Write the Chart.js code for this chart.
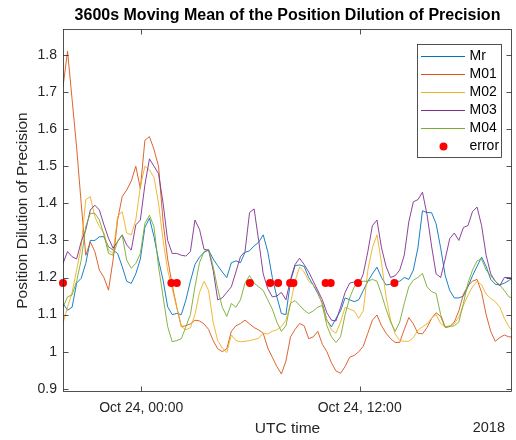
<!DOCTYPE html>
<html>
<head>
<meta charset="utf-8">
<script src="https://cdn.jsdelivr.net/npm/chart.js@4.4.0/dist/chart.umd.min.js"></script>
<style>
  html, body { margin: 0; padding: 0; background: #fff; }
</style>
</head>
<body>
<canvas id="pdopChart" width="516" height="440"></canvas>
<script>
// hours relative to Oct 24, 00:00 UTC
let times = [-4.3,-4.05,-3.8,-3.55,-3.3,-3.05,-2.8,-2.55,-2.3,-2.05,-1.8,-1.55,-1.3,-1.05,-0.8,-0.55,-0.3,-0.05,0.2,0.45,
  0.7,0.95,1.2,1.45,1.7,1.95,2.2,2.45,2.7,2.95,3.2,3.45,3.7,3.95,4.2,4.45,4.7,4.95,5.2,5.45,
  5.7,5.95,6.2,6.45,6.7,6.95,7.2,7.45,7.7,7.95,8.2,8.45,8.7,8.95,9.2,9.45,9.7,9.95,10.2,10.45,
  10.7,10.95,11.2,11.45,11.7,11.95,12.2,12.45,12.7,12.95,13.2,13.45,13.7,13.95,14.2,14.45,14.7,14.95,15.2,15.45,
  15.7,15.95,16.2,16.45,16.7,16.95,17.2,17.45,17.7,17.95,18.2,18.45,18.7,18.95,19.2,19.45,19.7,19.95,20.2,20.37];

let mr = [1.13,1.112,1.12,1.185,1.198,1.238,1.30,1.30,1.31,1.31,
  1.283,1.274,1.265,1.23,1.19,1.184,1.21,1.25,1.335,1.36,
  1.31,1.247,1.193,1.121,1.10,1.103,1.10,1.139,1.19,1.235,
  1.255,1.268,1.274,1.25,1.232,1.215,1.20,1.24,1.245,1.24,
  1.268,1.272,1.285,1.295,1.315,1.27,1.20,1.148,1.103,1.10,
  1.19,1.232,1.234,1.23,1.20,1.18,1.157,1.13,1.085,1.067,
  1.09,1.11,1.145,1.14,1.135,1.14,1.165,1.19,1.21,1.228,
  1.20,1.18,1.182,1.19,1.19,1.2,1.195,1.22,1.28,1.38,
  1.375,1.375,1.345,1.28,1.205,1.165,1.145,1.145,1.15,1.175,
  1.205,1.23,1.255,1.23,1.195,1.182,1.18,1.185,1.192,1.198];

let m01 = [1.714,1.81,1.68,1.55,1.40,1.26,1.296,1.27,1.22,1.20,
  1.166,1.247,1.355,1.418,1.436,1.46,1.50,1.44,1.57,1.58,
  1.545,1.50,1.35,1.25,1.18,1.12,1.068,1.07,1.075,1.085,
  1.083,1.075,1.06,1.03,1.008,1.0,1.008,1.055,1.07,1.076,
  1.085,1.075,1.065,1.059,1.05,1.01,0.985,0.96,0.94,0.975,
  1.04,1.06,1.076,1.07,1.035,1.04,1.055,1.02,1.0,0.97,
  0.948,0.942,0.96,0.985,0.99,1.0,1.015,1.05,1.085,1.099,
  1.07,1.05,1.035,1.025,1.025,1.06,1.092,1.075,1.05,1.048,
  1.065,1.09,1.105,1.095,1.065,1.068,1.08,1.11,1.155,1.178,
  1.19,1.195,1.16,1.10,1.055,1.028,1.038,1.045,1.04,1.04];

let m02 = [1.077,1.12,1.16,1.22,1.283,1.41,1.418,1.364,1.337,1.32,
  1.274,1.265,1.364,1.378,1.32,1.315,1.355,1.445,1.50,1.49,
  1.47,1.40,1.30,1.22,1.17,1.12,1.068,1.059,1.065,1.10,
  1.16,1.19,1.165,1.08,1.03,1.01,0.998,1.045,1.03,1.027,
  1.028,1.03,1.033,1.036,1.05,1.048,1.055,1.059,1.068,1.085,
  1.13,1.19,1.229,1.215,1.19,1.18,1.165,1.125,1.085,1.058,
  1.05,1.08,1.12,1.115,1.11,1.09,1.11,1.22,1.28,1.315,
  1.24,1.148,1.085,1.048,1.03,1.028,1.028,1.038,1.058,1.067,
  1.075,1.09,1.10,1.076,1.067,1.07,1.075,1.094,1.125,1.152,
  1.175,1.19,1.18,1.155,1.144,1.135,1.12,1.09,1.067,1.058];

let m03 = [1.238,1.27,1.256,1.25,1.297,1.328,1.382,1.395,1.382,1.342,
  1.306,1.279,1.297,1.315,1.288,1.274,1.342,1.355,1.45,1.52,
  1.50,1.48,1.40,1.30,1.265,1.265,1.26,1.258,1.27,1.355,
  1.33,1.276,1.274,1.22,1.14,1.145,1.16,1.175,1.215,1.256,
  1.27,1.375,1.385,1.30,1.21,1.17,1.148,1.15,1.16,1.14,
  1.195,1.235,1.252,1.235,1.215,1.19,1.165,1.14,1.105,1.085,
  1.083,1.12,1.16,1.185,1.188,1.18,1.21,1.27,1.34,1.355,
  1.28,1.23,1.20,1.205,1.22,1.26,1.35,1.404,1.41,1.43,
  1.37,1.285,1.21,1.20,1.25,1.305,1.32,1.30,1.335,1.34,
  1.378,1.39,1.34,1.26,1.21,1.19,1.178,1.20,1.20,1.198];

let m04 = [1.12,1.148,1.153,1.19,1.247,1.337,1.373,1.373,1.355,1.315,
  1.265,1.26,1.297,1.315,1.247,1.225,1.238,1.265,1.346,1.368,
  1.337,1.229,1.148,1.068,1.027,1.03,1.035,1.067,1.10,1.175,
  1.24,1.27,1.276,1.23,1.17,1.12,1.095,1.13,1.12,1.14,
  1.185,1.205,1.185,1.175,1.165,1.14,1.115,1.08,1.055,1.07,
  1.13,1.138,1.125,1.112,1.103,1.11,1.12,1.125,1.07,1.04,
  1.025,1.04,1.10,1.145,1.175,1.188,1.19,1.19,1.195,1.19,
  1.155,1.115,1.08,1.055,1.08,1.13,1.175,1.193,1.20,1.211,
  1.175,1.162,1.157,1.10,1.067,1.068,1.07,1.08,1.13,1.185,
  1.22,1.245,1.25,1.22,1.205,1.19,1.18,1.165,1.148,1.145];

// moments flagged as error
let errorTimes = [-4.3,1.655,1.955,5.97,7.08,7.52,8.18,8.36,10.13,10.41,11.91,13.91];
let errorValues = [1.185,1.185,1.185,1.185,1.185,1.185,1.185,1.185,1.185,1.185,1.185,1.185];

let seriesNames = ['Mr', 'M01', 'M02', 'M03', 'M04'];
let seriesColors = ['#0072BD', '#D95319', '#EDB120', '#7E2F8E', '#77AC30'];

let xTickValues = [0, 12];
let xTickLabels = ['Oct 24, 00:00', 'Oct 24, 12:00'];
let yTickValues = [0.9, 1.0, 1.1, 1.2, 1.3, 1.4, 1.5, 1.6, 1.7, 1.8];
let yTickLabels = ['0.9', '1', '1.1', '1.2', '1.3', '1.4', '1.5', '1.6', '1.7', '1.8'];

const fontFamily = '"Liberation Sans", Arial, Helvetica, sans-serif';
const axisColor = '#262626';

function toPoints(xs, ys) {
    return xs.map((t, i) => ({ x: t, y: ys[i] }));
}

let allSeries = [mr, m01, m02, m03, m04];
let datasets = allSeries.map((vals, i) => ({
    label: seriesNames[i],
    data: toPoints(times, vals),
    borderColor: seriesColors[i],
    borderWidth: 0.9,
    pointRadius: 0,
    fill: false,
    tension: 0,
    order: 5 - i   // later series drawn on top, like the original
}));
datasets.push({
    label: 'error',
    data: toPoints(errorTimes, errorValues),
    showLine: false,
    pointRadius: 4,
    pointBackgroundColor: '#FF0000',
    pointBorderWidth: 0,
    borderColor: '#FF0000',
    clip: false,
    order: 0
});

// box, inner ticks, title, legend and the year label
const matlabDecor = {
    id: 'matlabDecor',
    afterDraw(chart) {
        const { ctx, chartArea: a, scales } = chart;
        ctx.save();
        const L = Math.round(a.left) + 0.5, R = Math.round(a.right) - 0.5;
        const T = Math.round(a.top) + 0.5, B = Math.round(a.bottom) - 0.5;
        ctx.strokeStyle = axisColor;
        ctx.lineWidth = 0.8;
        ctx.strokeRect(L, T, R - L, B - T);
        ctx.beginPath();
        xTickValues.forEach(v => {
            const px = Math.round(scales.x.getPixelForValue(v)) + 0.5;
            ctx.moveTo(px, B); ctx.lineTo(px, B - 5);
            ctx.moveTo(px, T); ctx.lineTo(px, T + 5);
        });
        yTickValues.forEach(v => {
            const py = Math.round(scales.y.getPixelForValue(v)) + 0.5;
            ctx.moveTo(L, py); ctx.lineTo(L + 5, py);
            ctx.moveTo(R, py); ctx.lineTo(R - 5, py);
        });
        ctx.stroke();

        // title
        ctx.fillStyle = '#000';
        ctx.font = 'bold 16px ' + fontFamily;
        ctx.textAlign = 'center';
        ctx.textBaseline = 'middle';
        ctx.fillText('3600s Moving Mean of the Position Dilution of Precision', (a.left + a.right) / 2, 16);

        // year label under the x axis
        ctx.fillStyle = axisColor;
        ctx.font = '14.5px ' + fontFamily;
        ctx.textAlign = 'right';
        ctx.fillText('2018', 505, 428);

        // legend
        const lx = 417.5, ly = 44.5, lw = 84, lh = 113;
        ctx.fillStyle = '#fff';
        ctx.fillRect(lx, ly, lw, lh);
        ctx.strokeStyle = axisColor;
        ctx.lineWidth = 0.8;
        ctx.strokeRect(lx, ly, lw, lh);
        ctx.font = '14px ' + fontFamily;
        ctx.textAlign = 'left';
        chart.data.datasets.forEach((ds, i) => {
            const cy = 56 + i * 18.1;
            if (ds.showLine === false) {
                ctx.fillStyle = ds.pointBackgroundColor;
                ctx.beginPath();
                ctx.arc(443.5, cy, 4, 0, Math.PI * 2);
                ctx.fill();
            } else {
                ctx.strokeStyle = ds.borderColor;
                ctx.lineWidth = 1;
                ctx.beginPath();
                ctx.moveTo(421, Math.round(cy) + 0.5);
                ctx.lineTo(465, Math.round(cy) + 0.5);
                ctx.stroke();
            }
            ctx.fillStyle = '#000';
            ctx.fillText(ds.label, 469.5, cy);
        });
        ctx.restore();
    }
};

let pdopChart = new Chart(document.getElementById('pdopChart').getContext('2d'), {
    type: 'line',
    data: { datasets: datasets },
    options: {
        responsive: false,
        animation: false,
        devicePixelRatio: 1,
        layout: { padding: { top: 29, right: 1, bottom: 0, left: 0 } },
        plugins: {
            legend: { display: false },
            title: { display: false },
            tooltip: { enabled: false }
        },
        scales: {
            x: {
                type: 'linear',
                min: -4.3,
                max: 20.37,
                afterFit: (scale) => { scale.height = 48; },
                afterBuildTicks: (scale) => { scale.ticks = xTickValues.map(v => ({ value: v })); },
                grid: { display: false, drawTicks: false },
                border: { display: false },
                ticks: {
                    padding: 8,
                    maxRotation: 0,
                    autoSkip: false,
                    color: axisColor,
                    font: { size: 14, family: fontFamily },
                    callback: (v, i) => xTickLabels[i]
                },
                title: {
                    display: true,
                    text: 'UTC time',
                    color: axisColor,
                    font: { size: 15.5, family: fontFamily },
                    padding: { top: 0, bottom: 2 }
                }
            },
            y: {
                type: 'linear',
                min: 0.8914,
                max: 1.87,
                afterFit: (scale) => { scale.width = 63; },
                afterBuildTicks: (scale) => { scale.ticks = yTickValues.map(v => ({ value: v })); },
                grid: { display: false, drawTicks: false },
                border: { display: false },
                ticks: {
                    padding: 6,
                    autoSkip: false,
                    color: axisColor,
                    font: { size: 14, family: fontFamily },
                    callback: (v, i) => yTickLabels[i]
                },
                title: {
                    display: true,
                    text: 'Position Dilution of Precision',
                    color: axisColor,
                    font: { size: 15.5, family: fontFamily },
                    padding: { top: 13, bottom: 0 }
                }
            }
        }
    },
    plugins: [matlabDecor]
});
</script>
</body>
</html>
